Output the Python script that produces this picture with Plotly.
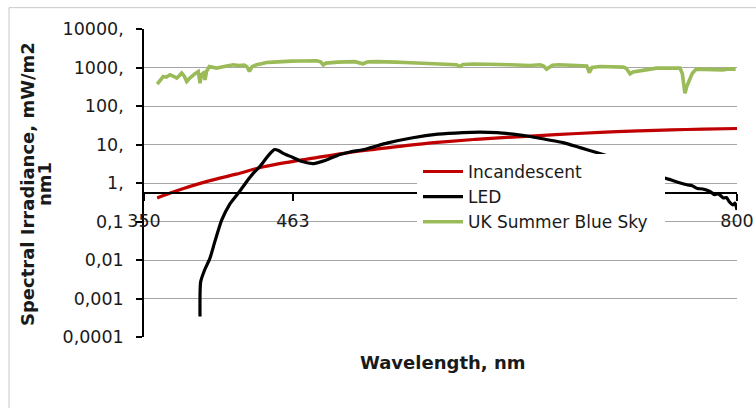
import math
import plotly.graph_objects as go

# ---------------- data ----------------
inc_wl = [360, 370, 380, 390, 400, 420, 440, 460, 480, 500, 525, 550, 575, 600,
          625, 650, 675, 700, 725, 750, 775, 800]
inc_val = [0.41, 0.55, 0.72, 0.92, 1.15, 1.7, 2.6, 3.5, 4.5, 5.8, 7.5, 9.5, 11.5, 13.5,
           15.3, 17, 19, 21, 22.5, 24, 25, 26]

led_wl = [392.5, 393, 396, 400, 404, 409, 415, 421.6, 428, 433, 438, 443, 447, 449,
          452, 456, 463, 470, 478.5, 488, 498.7, 507, 516, 535, 554, 573, 592, 605,
          618, 630, 643, 655, 668, 681, 694, 709, 720, 730, 745, 750, 755, 762, 766,
          770, 774, 779.5, 783, 786, 789.6, 792, 794, 797, 798.5, 800]
led_val = [0.00034, 0.0027, 0.0055, 0.011, 0.032, 0.11, 0.28, 0.55, 1.1, 1.8, 2.7, 4.5,
           6.5, 7.4, 7.0, 5.8, 4.6, 3.6, 3.2, 3.9, 5.5, 6.5, 7.3, 11, 15, 18.5, 20.4,
           21, 20.4, 18.5, 16.1, 13.5, 11.2, 8.3, 6.1, 4.3, 3.3, 2.5, 1.35, 1.2, 1.05,
           0.9, 0.85, 0.72, 0.7, 0.6, 0.5, 0.52, 0.41, 0.42, 0.33, 0.27, 0.3, 0.2]

sky_wl = [360, 362, 364.6, 367, 369.7, 372, 374.8, 377, 378.6, 380.5, 382.4, 385, 387.4,
          389, 391.2, 392.5, 393.5, 395, 396.3, 397.5, 399.6, 402, 405, 410, 414, 417.7,
          422, 426, 428, 430, 432, 435.4, 439, 443, 448, 452, 455.7, 462, 468, 474, 481,
          484, 486, 488, 491, 497, 503, 510, 516, 520, 527, 534, 541, 548, 555, 561.7,
          568, 575, 582, 587, 589.8, 592, 600, 606, 612.5, 620, 628, 636, 643, 650.5,
          653, 655.5, 657, 660, 665, 670, 675.7, 682, 686, 687.9, 690, 696, 703, 710,
          713.7, 716, 718.8, 721, 726.3, 732, 739, 745, 750, 756.7, 758.5, 760.5, 762,
          764, 766, 769, 775, 781, 789, 794, 799]
sky_val = [370, 460, 583, 560, 645, 600, 530, 620, 715, 600, 432, 540, 645,
           700, 787, 390, 650, 715, 478, 800, 1062, 1000, 965, 1050, 1100, 1176,
           1120, 1150, 1062, 787, 1050, 1176, 1250, 1350, 1380, 1420, 1433, 1460, 1480, 1470, 1495,
           1400, 1176, 1300, 1350, 1380, 1400, 1420, 1250, 1400, 1420, 1433, 1380, 1350, 1330, 1300,
           1280, 1260, 1200, 1180, 1062, 1200, 1230, 1240, 1250, 1200, 1180, 1150, 1130, 1176,
           1100, 908, 1000, 1150, 1176, 1160, 1176, 1150, 1100, 741, 1000, 1062, 1050, 1040,
           1025, 950, 685, 760, 835, 880, 965, 960, 980, 965, 700, 215, 330,
           478, 700, 908, 900, 880, 870, 920, 908]

y_tickvals = [1e4, 1e3, 1e2, 1e1, 1, 0.1, 0.01, 0.001, 0.0001]
y_ticktext = ["10000,", "1000,", "100,", "10,", "1,", "0,1", "0,01", "0,001", "0,0001"]
x_tickvals = [350, 463, 800]
x_ticktext = ["350", "463", "800"]
x_cross = 0.54  # where the horizontal axis crosses the value axis

# ---------------- figure ----------------
FONT = "DejaVu Sans"
TXT = "#1a1a1a"
L, T, W, H = 144, 29.3, 593, 307.4   # plot area in pixels


def px_x(p):
    return (p - L) / W


def px_y(p):
    return (T + H - p) / H


fig = go.Figure()
fig.add_trace(go.Scatter(x=inc_wl, y=inc_val, mode="lines", name="Incandescent",
                         line=dict(color="#C00000", width=3.2, shape="spline")))
fig.add_trace(go.Scatter(x=led_wl, y=led_val, mode="lines", name="LED",
                         line=dict(color="#000000", width=3.2, shape="spline", smoothing=0.6)))
fig.add_trace(go.Scatter(x=sky_wl, y=sky_val, mode="lines", name="UK Summer Blue Sky",
                         line=dict(color="#9BBB59", width=3.6)))

cross_pos = (math.log10(x_cross) + 4) / 8

fig.update_layout(
    template="none",
    width=756, height=408,
    margin=dict(l=L, r=756 - L - W, t=T, b=408 - T - H, pad=0, autoexpand=False),
    paper_bgcolor="white", plot_bgcolor="white",
    font=dict(family=FONT, size=17.5, color=TXT),
    showlegend=True,
    legend=dict(x=px_x(418), y=px_y(154), xanchor="left", yanchor="top",
                bgcolor="white", borderwidth=0, font=dict(size=17, family=FONT, color=TXT),
                tracegroupgap=0, itemwidth=40),
    xaxis=dict(range=[350, 800], anchor="free", position=cross_pos, automargin=False,
               showline=True, linecolor="black", linewidth=1.5,
               ticks="outside", ticklen=7, tickcolor="black", tickwidth=1.5,
               tickvals=x_tickvals, ticktext=x_ticktext, ticklabelstandoff=5,
               showgrid=False, zeroline=False, tickfont=dict(size=17.5, color=TXT)),
    yaxis=dict(type="log", range=[-4, 4], automargin=False,
               showline=True, linecolor="black", linewidth=1.5,
               ticks="outside", ticklen=6, tickcolor="black", tickwidth=1.5,
               tickvals=y_tickvals, ticktext=y_ticktext, ticklabelstandoff=9,
               showgrid=True, gridcolor="#a6a6a6", gridwidth=1.3, zeroline=False,
               tickfont=dict(size=17.5, color=TXT)),
    annotations=[
        dict(text="<b>Wavelength, nm</b>", xref="paper", yref="paper",
             x=px_x(442), y=px_y(362), xanchor="center", yanchor="middle",
             showarrow=False, font=dict(size=18, family=FONT, color=TXT)),
        dict(text="<b>Spectral Irradiance, mW/m2</b>", xref="paper", yref="paper",
             x=px_x(27), y=px_y(184), xanchor="center", yanchor="middle",
             textangle=-90, showarrow=False, font=dict(size=18, family=FONT, color=TXT)),
        dict(text="<b>nm1</b>", xref="paper", yref="paper",
             x=px_x(44), y=px_y(184), xanchor="center", yanchor="middle",
             textangle=-90, showarrow=False, font=dict(size=18, family=FONT, color=TXT)),
    ],
    shapes=[
        # outer chart border
        dict(type="rect", xref="paper", yref="paper",
             x0=px_x(9), x1=px_x(760), y0=px_y(412), y1=px_y(8),
             line=dict(color="#c8c8c8", width=1), fillcolor="rgba(0,0,0,0)", layer="below"),
        # legend's white box (covers lines / gridlines beneath it)
        dict(type="rect", xref="paper", yref="paper",
             x0=px_x(417), x1=px_x(665), y0=px_y(235), y1=px_y(158),
             line=dict(width=0), fillcolor="white", layer="above"),
    ],
)

fig.write_html("out.html", config={"displayModeBar": False},
               post_script="document.body.style.margin='0';document.body.style.padding='0';")
